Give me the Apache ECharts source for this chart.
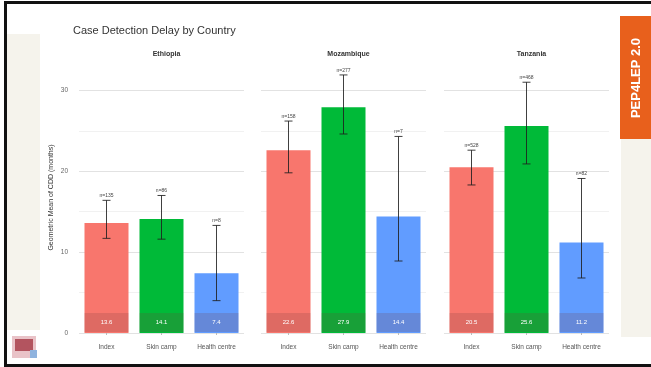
<!DOCTYPE html>
<html>
<head>
<meta charset="utf-8">
<script src="https://cdn.jsdelivr.net/npm/echarts@6/dist/echarts.min.js"></script>
<style>
  html, body { margin: 0; padding: 0; background: #ffffff; }
  #chart { width: 651px; height: 367px; }
</style>
</head>
<body>
<div id="chart"></div>
<script>
// Facets, bar categories and y ticks
const countries = ['Ethiopia', 'Mozambique', 'Tanzania'];
const settings = ['Index', 'Skin camp', 'Health centre'];
const yTicks = [0, 10, 20, 30];

// Geometric mean of case detection delay (months) with 95% CI and sample sizes
const ethiopiaMean = [13.6, 14.1, 7.4];
const ethiopiaLow = [11.7, 11.6, 4.0];
const ethiopiaHigh = [16.4, 17.0, 13.3];
const ethiopiaN = ['n=135', 'n=86', 'n=8'];

const mozambiqueMean = [22.6, 27.9, 14.4];
const mozambiqueLow = [19.8, 24.6, 8.9];
const mozambiqueHigh = [26.2, 31.9, 24.3];
const mozambiqueN = ['n=158', 'n=277', 'n=7'];

const tanzaniaMean = [20.5, 25.6, 11.2];
const tanzaniaLow = [18.3, 20.9, 6.8];
const tanzaniaHigh = [22.6, 31.0, 19.1];
const tanzaniaN = ['n=528', 'n=468', 'n=82'];

const barColors = ['#F8766D', '#00BA38', '#619CFF'];

const means = [ethiopiaMean, mozambiqueMean, tanzaniaMean];
const lows = [ethiopiaLow, mozambiqueLow, tanzaniaLow];
const highs = [ethiopiaHigh, mozambiqueHigh, tanzaniaHigh];
const ns = [ethiopiaN, mozambiqueN, tanzaniaN];

// Panel geometry
const panelLeft = [79, 261, 444];
const panelWidth = 165;
const panelTop = 62;
const panelHeight = 271;
const yMax = 33.5;

const chart = echarts.init(document.getElementById('chart'), null, { renderer: 'canvas' });

const grids = [], xAxes = [], yAxes = [], series = [], titles = [];

titles.push({
  text: 'Case Detection Delay by Country',
  left: 68, top: 20,
  textStyle: { fontFamily: 'Liberation Sans', fontSize: 11, fontWeight: 'normal', color: '#333333' }
});

countries.forEach((country, i) => {
  grids.push({ left: panelLeft[i], top: panelTop, width: panelWidth, height: panelHeight, containLabel: false });
  titles.push({
    text: country,
    left: panelLeft[i] + panelWidth / 2, top: 46, textAlign: 'center',
    textStyle: { fontFamily: 'Liberation Sans', fontSize: 7, fontWeight: 'bold', color: '#333333' }
  });
  xAxes.push({
    type: 'category', gridIndex: i, data: settings,
    axisLine: { show: false },
    axisTick: { show: true, alignWithLabel: true, length: 2, lineStyle: { color: '#bbbbbb' } },
    axisLabel: { fontFamily: 'Liberation Sans', fontSize: 6.5, color: '#555555', margin: 11 }
  });
  yAxes.push({
    type: 'value', gridIndex: i, min: 0, max: yMax, interval: 5,
    name: i === 0 ? 'Geometric Mean of CDD (months)' : '',
    nameLocation: 'middle', nameGap: 24, nameRotate: 90,
    nameTextStyle: { fontFamily: 'Liberation Sans', fontSize: 7, color: '#333333' },
    axisLine: { show: false }, axisTick: { show: false },
    axisLabel: {
      show: i === 0, fontFamily: 'Liberation Sans', fontSize: 6.5, color: '#666666', margin: 11,
      formatter: v => (yTicks.indexOf(v) >= 0 ? String(v) : '')
    },
    splitLine: { show: true, showMaxLine: false, lineStyle: { color: ['#e2e2e2', '#f1f1f1'], width: 1 } }
  });

  series.push({
    type: 'bar', xAxisIndex: i, yAxisIndex: i, barWidth: 44,
    data: means[i].map((v, k) => ({ value: v, itemStyle: { color: barColors[k] } })),
    label: {
      show: true, position: 'insideBottom', distance: 1,
      formatter: p => p.value.toFixed(1),
      fontFamily: 'Liberation Sans', fontSize: 6, color: '#ffffff',
      width: 44, height: 19, lineHeight: 19, align: 'center',
      backgroundColor: 'rgba(120,60,60,0.2)'
    },
    z: 2
  });

  // Confidence intervals with sample size above each upper cap
  series.push({
    type: 'custom', xAxisIndex: i, yAxisIndex: i, z: 5,
    data: settings.map((s, k) => [k, lows[i][k], highs[i][k], ns[i][k]]),
    renderItem: (params, api) => {
      const lo = api.coord([api.value(0), api.value(1)]);
      const hi = api.coord([api.value(0), api.value(2)]);
      const cap = 4;
      const st = { stroke: 'rgba(30,30,30,0.85)', lineWidth: 1 };
      return {
        type: 'group',
        children: [
          { type: 'line', shape: { x1: lo[0], y1: lo[1], x2: hi[0], y2: hi[1] }, style: st },
          { type: 'line', shape: { x1: lo[0] - cap, y1: lo[1], x2: lo[0] + cap, y2: lo[1] }, style: st },
          { type: 'line', shape: { x1: hi[0] - cap, y1: hi[1], x2: hi[0] + cap, y2: hi[1] }, style: st },
          {
            type: 'text',
            style: {
              x: hi[0], y: hi[1] - 2, text: ns[i][params.dataIndex],
              align: 'center', verticalAlign: 'bottom',
              font: '5px "Liberation Sans"', fill: '#444444'
            }
          }
        ]
      };
    }
  });
});

chart.setOption({
  backgroundColor: '#ffffff',
  animation: false,
  title: titles,
  grid: grids,
  xAxis: xAxes,
  yAxis: yAxes,
  series: series,
  graphic: [
    // page frame
    { type: 'rect', shape: { x: 4, y: 1, width: 647, height: 3 }, style: { fill: '#111111' }, silent: true },
    { type: 'rect', shape: { x: 4, y: 1, width: 3, height: 366 }, style: { fill: '#111111' }, silent: true },
    { type: 'rect', shape: { x: 4, y: 364, width: 647, height: 3 }, style: { fill: '#111111' }, silent: true },
    // side panels
    { type: 'rect', shape: { x: 7, y: 34, width: 33, height: 296 }, style: { fill: '#f5f3ec' }, silent: true },
    { type: 'rect', shape: { x: 621, y: 139, width: 30, height: 198 }, style: { fill: '#f5f3ec' }, silent: true },
    // badge
    { type: 'rect', shape: { x: 620, y: 16, width: 31, height: 123 }, style: { fill: '#e8601c' }, silent: true },
    {
      type: 'text', x: 636, y: 78, rotation: Math.PI / 2, silent: true,
      style: { text: 'PEP4LEP 2.0', align: 'center', verticalAlign: 'middle', font: 'bold 13px "Liberation Sans"', fill: '#ffffff' }
    },
    // logo
    { type: 'rect', shape: { x: 12, y: 336, width: 24, height: 22 }, style: { fill: '#e9c3c8' }, silent: true },
    { type: 'rect', shape: { x: 15, y: 339, width: 18, height: 12 }, style: { fill: '#b3545f' }, silent: true },
    { type: 'rect', shape: { x: 30, y: 350, width: 7, height: 8 }, style: { fill: '#8fb3de' }, silent: true }
  ]
});
</script>
</body>
</html>
